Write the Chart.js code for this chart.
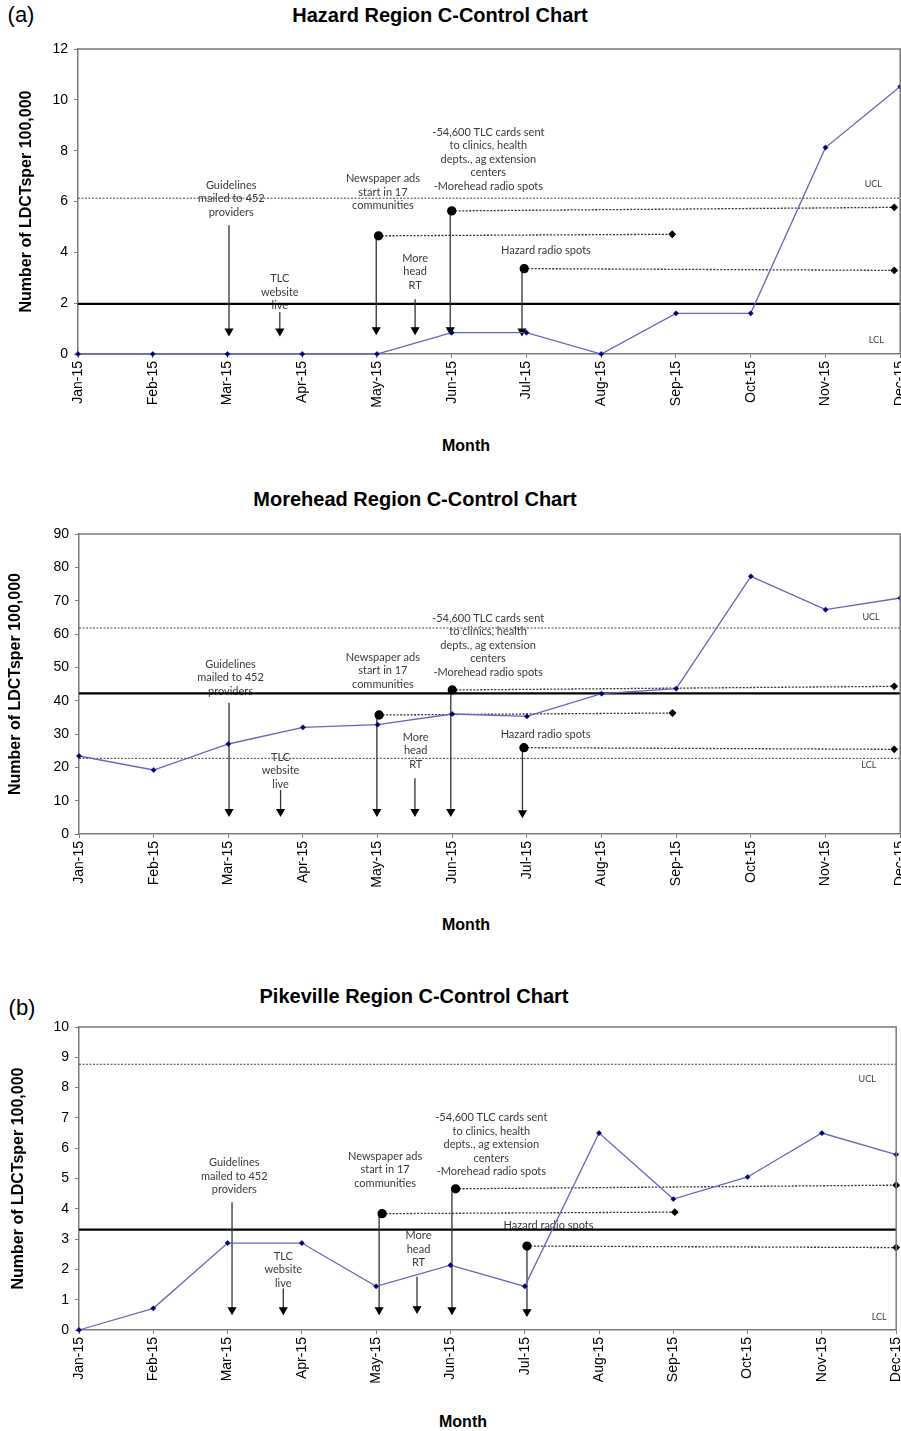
<!DOCTYPE html>
<html>
<head>
<meta charset="utf-8">
<script src="https://cdn.jsdelivr.net/npm/chart.js@4.4.1/dist/chart.umd.min.js"></script>
<style>
  html, body { margin:0; padding:0; background:#fff; overflow:hidden; width:901px; height:1431px; }
  .wrap { position:relative; width:901px; height:1431px; overflow:hidden; }
  canvas { position:absolute; left:0; }
  .t { position:absolute; transform:translate(-50%,-50%); white-space:nowrap; color:#000; font-family:"Liberation Sans", Arial, sans-serif; }
  .title { font-weight:bold; font-size:20px; }
  .month { font-weight:bold; font-size:16px; }
  .tag { font-size:22px; }
</style>
</head>
<body>
<div class="wrap">
  <div class="t tag" style="left:21px; top:15px;">(a)</div>
  <div class="t title" style="left:440px; top:15px;">Hazard Region C-Control Chart</div>
  <canvas id="c1" width="920" height="414" style="top:0px;"></canvas>
  <div class="t month" style="left:466px; top:446px;">Month</div>

  <div class="t title" style="left:415px; top:499px;">Morehead Region C-Control Chart</div>
  <canvas id="c2" width="920" height="414" style="top:480px;"></canvas>
  <div class="t month" style="left:466px; top:925px;">Month</div>

  <div class="t tag" style="left:22px; top:1008px;">(b)</div>
  <div class="t title" style="left:414px; top:996px;">Pikeville Region C-Control Chart</div>
  <canvas id="c3" width="916" height="410" style="top:980px;"></canvas>
  <div class="t month" style="left:463px; top:1422px;">Month</div>
</div>
<script>
// ---------------- data ----------------
const months = ['Jan-15','Feb-15','Mar-15','Apr-15','May-15','Jun-15','Jul-15','Aug-15','Sep-15','Oct-15','Nov-15','Dec-15'];

// Hazard
const hazardRate = [0, 0, 0, 0, 0, 0.84, 0.84, 0, 1.6, 1.6, 8.12, 10.52];
const hazardCenter = 1.97, hazardUCL = 6.13, hazardLCL = 0;
const hazardTicks = [0, 12, 2];
// intervention periods: [startX, startY, endX, endY]
const hazardPeriods = [[4.02, 4.65, 7.95, 4.71], [5.0, 5.63, 10.92, 5.77], [5.97, 3.36, 10.92, 3.29]];
// arrows: [x, fromY, toY]
const hazardArrows = [[2.02, 5.07, 0.9], [2.70, 1.65, 0.9], [3.99, 4.65, 0.95], [4.51, 2.15, 0.95], [4.98, 5.63, 0.95], [5.94, 3.36, 0.9]];
// notes: [x, y(first line), lines]
const hazardNotes = [
  [2.05, 6.64, ['Guidelines','mailed to 452','providers']],
  [2.70, 2.96, ['TLC','website','live']],
  [4.08, 6.90, ['Newspaper ads','start in 17','communities']],
  [4.51, 3.76, ['More','head','RT']],
  [5.49, 8.72, ['-54,600 TLC cards sent','to clinics, health','depts., ag extension','centers','-Morehead radio spots']],
  [6.26, 4.09, ['Hazard radio spots']]
];
const hazardLimitTags = [[10.64, 6.67, 'UCL'], [10.68, 0.55, 'LCL']];

// Morehead
const moreheadRate = [23.4, 19.2, 27.0, 32.0, 32.8, 36.0, 35.3, 42.1, 43.6, 77.3, 67.3, 70.8];
const moreheadCenter = 42.2, moreheadUCL = 61.8, moreheadLCL = 22.7;
const moreheadTicks = [0, 90, 10];
const moreheadPeriods = [[4.02, 35.7, 7.95, 36.3], [5.0, 43.2, 10.92, 44.3], [5.96, 25.9, 10.92, 25.4]];
const moreheadArrows = [[2.01, 39.4, 6.7], [2.70, 13.2, 6.7], [3.99, 35.7, 6.7], [4.50, 16.7, 6.7], [4.98, 43.2, 6.7], [5.94, 25.9, 6.3]];
const moreheadNotes = [
  [2.03, 51.0, ['Guidelines','mailed to 452','providers']],
  [2.70, 23.0, ['TLC','website','live']],
  [4.07, 53.0, ['Newspaper ads','start in 17','communities']],
  [4.51, 29.1, ['More','head','RT']],
  [5.48, 64.7, ['-54,600 TLC cards sent','to clinics, health','depts., ag extension','centers','-Morehead radio spots']],
  [6.25, 30.0, ['Hazard radio spots']]
];
const moreheadLimitTags = [[10.61, 65.2, 'UCL'], [10.58, 20.7, 'LCL']];

// Pikeville
const pikevilleRate = [0, 0.715, 2.87, 2.87, 1.44, 2.14, 1.44, 6.50, 4.32, 5.05, 6.50, 5.79];
const pikevilleCenter = 3.31, pikevilleUCL = 8.77, pikevilleLCL = 0;
const pikevilleTicks = [0, 10, 1];
const pikevillePeriods = [[4.08, 3.84, 8.02, 3.89], [5.07, 4.66, 11.0, 4.78], [6.03, 2.77, 11.0, 2.72]];
const pikevilleArrows = [[2.06, 4.22, 0.66], [2.75, 1.37, 0.66], [4.04, 3.84, 0.66], [4.55, 1.76, 0.7], [5.02, 4.66, 0.66], [6.03, 2.77, 0.6]];
const pikevilleNotes = [
  [2.09, 5.52, ['Guidelines','mailed to 452','providers']],
  [2.75, 2.44, ['TLC','website','live']],
  [4.12, 5.74, ['Newspaper ads','start in 17','communities']],
  [4.57, 3.11, ['More','head','RT']],
  [5.55, 7.00, ['-54,600 TLC cards sent','to clinics, health','depts., ag extension','centers','-Morehead radio spots']],
  [6.32, 3.46, ['Hazard radio spots']]
];
const pikevilleLimitTags = [[10.61, 8.27, 'UCL'], [10.77, 0.42, 'LCL']];

// ---------------- drawing ----------------
const notesPlugin = {
  id: 'notes',
  beforeDatasetsDraw(chart) {
    const o = chart.options.plugins.notes;
    const ctx = chart.ctx, xs = chart.scales.x, ys = chart.scales.y;
    ctx.save();
    ctx.textAlign = 'center';
    ctx.textBaseline = 'middle';
    ctx.fillStyle = '#3a3a3a';
    ctx.font = '11px Lato, "Liberation Sans", sans-serif';
    o.notes.forEach(([x, y, lines]) => {
      const px = xs.getPixelForValue(x), py = ys.getPixelForValue(y);
      lines.forEach((t, i) => ctx.fillText(t, px, py + i * 13.5));
    });
    ctx.font = '9px Lato, "Liberation Sans", sans-serif';
    o.tags.forEach(([x, y, t]) => ctx.fillText(t, xs.getPixelForValue(x), ys.getPixelForValue(y)));
    ctx.restore();
  },
  afterDraw(chart) {
    const a = chart.chartArea, ctx = chart.ctx;
    ctx.save();
    ctx.strokeStyle = '#7a7a7a';
    ctx.lineWidth = 1.5;
    ctx.beginPath();
    ctx.moveTo(a.left, a.top); ctx.lineTo(a.right, a.top); ctx.lineTo(a.right, a.bottom);
    ctx.stroke();
    ctx.restore();
  }
};

function buildChart(id, rate, center, ucl, lcl, ticks, periods, arrows, notes, tags, lay) {
  const datasets = [];
  datasets.push({
    data: rate.map((v, i) => ({x: i, y: v})),
    borderColor: '#6666bb', borderWidth: 1.3,
    pointStyle: 'rectRot', pointRadius: 2.6,
    pointBackgroundColor: '#00007a', pointBorderColor: '#00007a', pointBorderWidth: 0.5,
    clip: false
  });
  periods.forEach(([x1, y1, x2, y2]) => datasets.push({
    data: [{x: x1, y: y1}, {x: x2, y: y2}],
    borderColor: '#333', borderWidth: 1.3, borderDash: [2, 1.5],
    pointStyle: ['circle', 'rectRot'], pointRadius: [4, 3],
    pointBackgroundColor: '#000', pointBorderColor: '#000', clip: false
  }));
  arrows.forEach(([x, y1, y2]) => datasets.push({
    data: [{x: x, y: y1}, {x: x, y: y2}],
    borderColor: '#333', borderWidth: 1.3,
    pointStyle: 'triangle', pointRotation: 180, pointRadius: [0, 4],
    pointBackgroundColor: '#000', pointBorderColor: '#000', clip: false
  }));
  datasets.push({
    data: [{x: 0, y: center}, {x: 11, y: center}],
    borderColor: '#000', borderWidth: 2.2, pointRadius: 0, clip: false
  });
  [ucl, lcl].forEach(v => { if (v > 0) datasets.push({
    data: [{x: 0, y: v}, {x: 11, y: v}],
    borderColor: '#444', borderWidth: 1, borderDash: [2, 1.5], pointRadius: 0, clip: false
  }); });

  new Chart(document.getElementById(id), {
    type: 'line',
    data: { datasets },
    plugins: [notesPlugin],
    options: {
      responsive: false, animation: false,
      events: [],
      layout: { padding: { top: lay.top, left: 0, right: lay.right, bottom: 0 } },
      plugins: {
        legend: { display: false }, tooltip: { enabled: false }, title: { display: false },
        notes: { notes: notes, tags: tags }
      },
      scales: {
        x: {
          type: 'linear', min: 0, max: 11, offset: false,
          afterFit: s => { s.height = 60; },
          afterBuildTicks: s => { s.ticks = months.map((m, i) => ({value: i})); },
          ticks: {
            autoSkip: false, minRotation: 90, maxRotation: 90, padding: 3,
            color: '#000', font: { family: '"Liberation Sans", Arial, sans-serif', size: 14 },
            callback: v => months[v]
          },
          grid: { drawOnChartArea: false, drawTicks: true, tickLength: 4, color: '#7a7a7a' },
          border: { color: '#7a7a7a', width: 1.5 }
        },
        y: {
          min: ticks[0], max: ticks[1],
          afterFit: s => { s.width = lay.yw; },
          ticks: {
            stepSize: ticks[2], padding: 6, color: '#000',
            font: { family: '"Liberation Sans", Arial, sans-serif', size: 14 }
          },
          grid: { drawOnChartArea: false, drawTicks: true, tickLength: 4, color: '#7a7a7a' },
          border: { color: '#7a7a7a', width: 1.5 },
          title: {
            display: true, text: 'Number of LDCTsper 100,000', color: '#000',
            font: { family: '"Liberation Sans", Arial, sans-serif', size: 16, weight: 'bold' },
            padding: { top: lay.tp, bottom: 0 }
          }
        }
      }
    }
  });
}

buildChart('c1', hazardRate, hazardCenter, hazardUCL, hazardLCL, hazardTicks, hazardPeriods, hazardArrows, hazardNotes, hazardLimitTags,
  { top: 49, right: 15, yw: 78, tp: 17 });
buildChart('c2', moreheadRate, moreheadCenter, moreheadUCL, moreheadLCL, moreheadTicks, moreheadPeriods, moreheadArrows, moreheadNotes, moreheadLimitTags,
  { top: 54, right: 15, yw: 79, tp: 6 });
buildChart('c3', pikevilleRate, pikevilleCenter, pikevilleUCL, pikevilleLCL, pikevilleTicks, pikevillePeriods, pikevilleArrows, pikevilleNotes, pikevilleLimitTags,
  { top: 47, right: 15, yw: 79, tp: 9 });
</script>
</body>
</html>
